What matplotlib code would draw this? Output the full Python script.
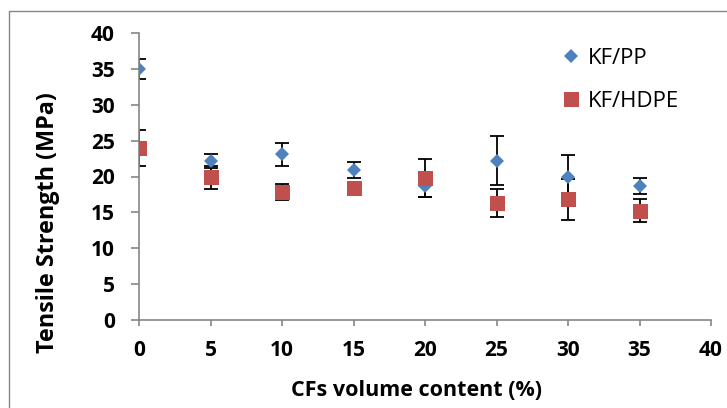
import matplotlib.pyplot as plt
from matplotlib.patches import Rectangle

# fibre content (%) and tensile strength (MPa) with standard deviations
cf_content = [0, 5, 10, 15, 20, 25, 30, 35]
pp_strength = [35.0, 22.2, 23.1, 20.9, 18.7, 22.2, 19.9, 18.7]
pp_err = [1.4, 1.0, 1.6, 1.1, 1.5, 3.4, 3.1, 1.1]
hdpe_strength = [24.0, 19.9, 17.8, 18.4, 19.8, 16.3, 16.8, 15.2]
hdpe_err = [2.5, 1.6, 1.1, 0.4, 2.6, 1.9, 2.8, 1.6]

blue = '#4F81BD'
red = '#C0504D'
grey = '#868686'

plt.rcParams['font.family'] = ['Open Sans', 'DejaVu Sans']

fig = plt.figure(figsize=(7.27, 4.08), dpi=100)
ax = fig.add_axes([139 / 727, 88 / 408, 572 / 727, 287 / 408])

# outer chart border
fig.patches.append(Rectangle((9 / 727, -0.1), 1.2, 1.1 - 11 / 408,
                             transform=fig.transFigure, fill=False,
                             edgecolor=grey, linewidth=1.0))

ax.errorbar(cf_content, pp_strength, yerr=pp_err, fmt='none', ecolor='black',
            elinewidth=1.3, capsize=4.7, capthick=1.3, zorder=2)
ax.errorbar(cf_content, hdpe_strength, yerr=hdpe_err, fmt='none', ecolor='black',
            elinewidth=1.3, capsize=4.7, capthick=1.3, zorder=2)
ax.plot(cf_content, pp_strength, 'D', color=blue, markersize=7.5,
        markeredgewidth=0, label='KF/PP', zorder=3)
ax.plot(cf_content, hdpe_strength, 's', color=red, markersize=10.8,
        markeredgewidth=0, label='KF/HDPE', zorder=4)

ax.set_xlim(0, 40)
ax.set_ylim(0, 40)
ax.set_xticks(range(0, 41, 5))
ax.set_yticks(range(0, 41, 5))

for side in ('top', 'right'):
    ax.spines[side].set_visible(False)
for side in ('left', 'bottom'):
    ax.spines[side].set_color(grey)
    ax.spines[side].set_linewidth(1.2)

ax.tick_params(axis='both', direction='out', color=grey, width=1.2,
               labelsize=15)
ax.tick_params(axis='y', length=5.5, pad=12)
ax.tick_params(axis='x', length=4.5, pad=10)
for lbl in ax.get_xticklabels() + ax.get_yticklabels():
    lbl.set_fontweight('bold')

fig.text(48 / 727, 1 - 223 / 408, 'Tensile Strength (MPa)', rotation=90,
         ha='center', va='center', fontsize=16.8, fontweight='bold')
fig.text(417 / 727, 1 - 391 / 408, 'CFs volume content (%)',
         ha='center', va='center', fontsize=15.5, fontweight='bold')

fig.legend(loc='upper left', bbox_to_anchor=(562 / 727, 1 - 48 / 408),
           frameon=False, fontsize=16, handlelength=0.8, handletextpad=0.35,
           labelspacing=1.0, borderaxespad=0, borderpad=0)

fig.savefig('out.png', dpi=100)
